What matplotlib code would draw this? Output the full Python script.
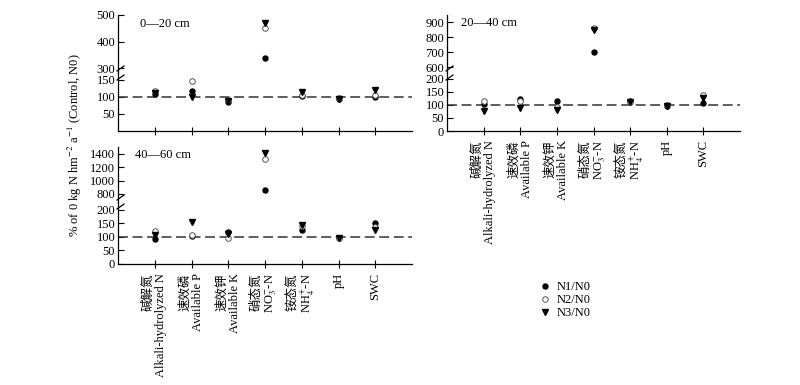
import matplotlib
matplotlib.use("Agg")
import matplotlib.pyplot as plt
from matplotlib.lines import Line2D

plt.rcParams['font.family'] = ['Liberation Serif', 'Noto Sans CJK SC']
plt.rcParams['mathtext.fontset'] = 'stix'
plt.rcParams['font.size'] = 9

# categories (Chinese / English)
cats_cn = ['碱解氮', '速效磷', '速效钾', '硝态氮', '铵态氮', '', '']
cats_en = ['Alkali-hydrolyzed N', 'Available P', 'Available K',
           'NO$_3^{-}$-N', 'NH$_4^{+}$-N', 'pH', 'SWC']

# 0-20 cm
d1_n1 = [109, 116, 84, 340, 102, 94, 101]
d1_n2 = [118, 146, 92, 450, 106, 98, 106]
d1_n3 = [112, 100, 88, 471, 113, 93, 120]
# 20-40 cm
d2_n1 = [105, 122, 116, 700, 114, 98, 106]
d2_n2 = [114, 116, 91, 864, 110, 99, 137]
d2_n3 = [78, 88, 80, 849, 112, 95, 128]
# 40-60 cm
d3_n1 = [92, 104, 118, 855, 125, 96, 152]
d3_n2 = [120, 106, 96, 1330, 138, 97, 135]
d3_n3 = [107, 156, 110, 1410, 145, 95, 125]

W, H = 800, 385
fig = plt.figure(figsize=(8, 3.85), dpi=100)

# marker styles
s_n1 = dict(marker='o', color='black', ms=3.6, ls='none')
s_n2 = dict(marker='o', mfc='white', mec='#555555', mew=0.7, ms=4.0, ls='none')
s_n3 = dict(marker='v', color='black', ms=4.2, ls='none')


def fx(px):
    return px / W


def fy(py):
    return 1 - py / H


def labels():
    out = []
    for cn, en in zip(cats_cn, cats_en):
        out.append(cn + '\n' + en if cn else en)
    return out


def panel(x0, x1, ytop, ybrk, ybot, up_lim, lo_lim, up_ticks, lo_ticks,
          n1, n2, n3, title, title_xy, show_xlabels):
    up = fig.add_axes([fx(x0), fy(ybrk), fx(x1 - x0), (ybrk - ytop) / H])
    lo = fig.add_axes([fx(x0), fy(ybot), fx(x1 - x0), (ybot - ybrk) / H])
    x = list(range(1, len(n1) + 1))
    for ax in (up, lo):
        ax.plot(x, n1, zorder=3, **s_n1)
        ax.plot(x, n2, zorder=3, **s_n2)
        ax.plot(x, n3, zorder=3, **s_n3)
        ax.set_xlim(0, 8)
        ax.spines['top'].set_visible(False)
        ax.spines['right'].set_visible(False)
        ax.tick_params(axis='y', direction='in', length=4, width=0.8, pad=2, labelsize=9)
        ax.spines['left'].set_linewidth(0.9)
        ax.spines['bottom'].set_linewidth(0.9)
    up.set_ylim(*up_lim)
    lo.set_ylim(*lo_lim)
    up.set_yticks(up_ticks)
    lo.set_yticks(lo_ticks)
    up.spines['bottom'].set_visible(False)
    up.set_xticks([])
    lo.axhline(100, color='#333333', lw=1.1, dashes=(6.5, 3), zorder=2)
    lo.set_xticks(x)
    lo.tick_params(axis='x', direction='inout', length=6, width=0.8)
    if show_xlabels:
        lo.set_xticklabels(labels(), rotation=90, va='top', ha='center',
                           multialignment='right', linespacing=1.05, fontsize=9)
    else:
        lo.set_xticklabels([])
    # break marks
    for yb in (ybrk - 4.5, ybrk + 4.5):
        fig.add_artist(Line2D([fx(x0 - 1), fx(x0 + 6)], [fy(yb + 2.5), fy(yb - 2.5)],
                              transform=fig.transFigure, color='black', lw=0.9))
    fig.text(fx(title_xy[0]), fy(title_xy[1]), title, ha='left', va='center', fontsize=9)


panel(118, 412, 15, 73, 131, (282, 500), (0, 170), [300, 400, 500], [50, 100, 150],
      d1_n1, d1_n2, d1_n3, '0—20 cm', (140, 24), False)
panel(447, 740, 15, 73, 131, (562, 949), (0, 223), [600, 700, 800, 900], [0, 50, 100, 150, 200],
      d2_n1, d2_n2, d2_n3, '20—40 cm', (461, 23), True)
panel(118, 412, 147, 202, 264, (680, 1505), (0, 228), [800, 1000, 1200, 1400], [0, 50, 100, 150, 200],
      d3_n1, d3_n2, d3_n3, '40—60 cm', (135, 155), True)

fig.text(fx(75), fy(145), '% of 0 kg N hm$^{-2}$ a$^{-1}$ (Control, N0)',
         rotation=90, ha='center', va='center', fontsize=9)

handles = [Line2D([], [], **s_n1), Line2D([], [], **s_n2), Line2D([], [], **s_n3)]
fig.legend(handles, ['N1/N0', 'N2/N0', 'N3/N0'], loc='upper left',
           bbox_to_anchor=(fx(539), fy(281)), frameon=False, borderpad=0,
           borderaxespad=0, handlelength=1.0, handletextpad=0.4,
           labelspacing=0.1, fontsize=9)

fig.savefig('out.png', dpi=100)
